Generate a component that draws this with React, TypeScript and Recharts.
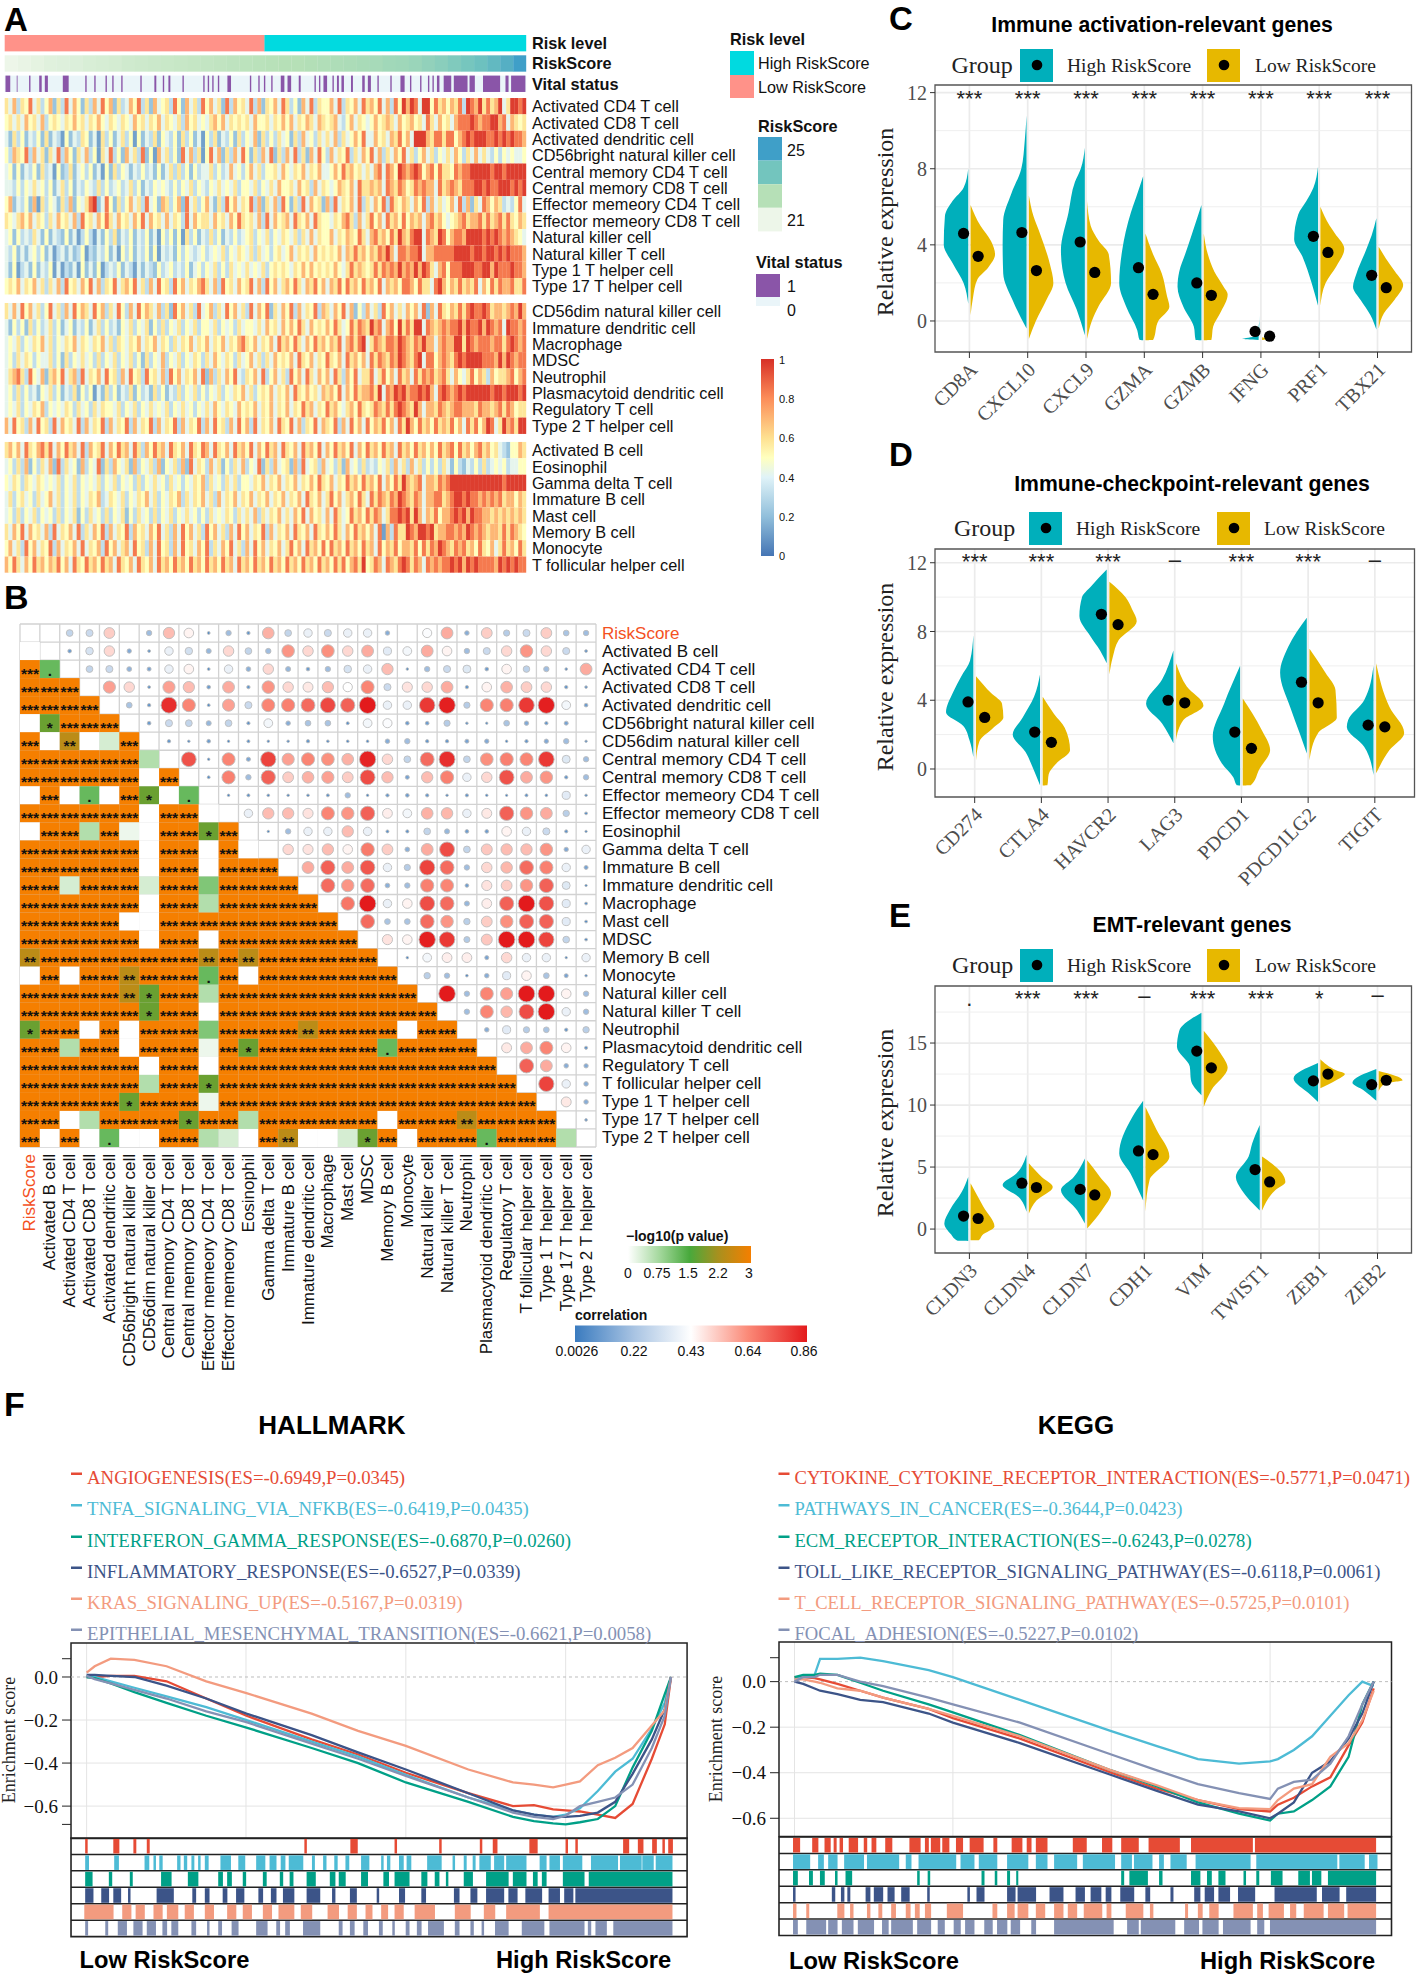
import React from 'react';
import {
  ScatterChart, LineChart, Scatter, Line, XAxis, YAxis, CartesianGrid,
  ReferenceArea, ReferenceLine,
} from 'recharts';

const SANS = '"Liberation Sans", Arial, sans-serif';
const SERIF = '"Liberation Serif", "Times New Roman", serif';

/* ---------- Panel A data (the heat map is
   read at a coarser column resolution than the original samples) ---------- */
const immuneGroup1 = ['Activated CD4 T cell','Activated CD8 T cell','Activated dendritic cell','CD56bright natural killer cell','Central memory CD4 T cell','Central memory CD8 T cell','Effector memeory CD4 T cell','Effector memeory CD8 T cell','Natural killer cell','Natural killer T cell','Type 1 T helper cell','Type 17 T helper cell'];
const immuneGroup2 = ['CD56dim natural killer cell','Immature dendritic cell','Macrophage','MDSC','Neutrophil','Plasmacytoid dendritic cell','Regulatory T cell','Type 2 T helper cell'];
const immuneGroup3 = ['Activated B cell','Eosinophil','Gamma delta T cell','Immature  B cell','Mast cell','Memory B cell','Monocyte','T follicular helper cell'];
const heatLevels = [.02,.12,.22,.32,.42,.5,.58,.7,.84,.97];
const heatRows1 = [
'6473658463 5726384752 6374857263 4758362745 6385274638 5746283756 4837265748 6352748365 5748365748 6758473859 7984995867 5768398796 8679469989',
'5646475647 3565465756 4657546546 5475646574 6546375645 4675746565 6475564657 5746576476 5674357465 4575676475 6756486475 6478889878 8997847656',
'4263524352 6243152436 5241635246 3515243625 4352635241 5362435263 5472635364 5263745364 6473645758 4475647685 7499976886 8857898999 8898989887',
'5376583746 2648375264 7351648352 7463825174 6352847361 5847263748 5263748263 7483627485 3746583647 5847364758 4635746354 6475364746 4353545445',
'4525243526 3415236245 3524152635 4243534252 4636352534 4635347453 5746355647 5465746574 4575867564 6478487598 7898578586 6587889999 9899899999',
'4435354645 3524635243 5436353453 4635243545 4353546354 3546454635 5463546475 5647563746 5457657486 6767487687 5687877486 7876888998 9889998989',
'5724352716 3542637254 6892485263 5746384527 6357284635 7426385746 5837264738 5263847562 7384657483 6475838657 6475837464 5748372648 7576343584',
'6546757465 3647564738 5647586475 6475847564 7465384756 6475647586 5647384756 7486574865 5465786374 6857486758 5767478675 4567867786 8678686576',
'4525343642 5243252413 5314253624 3524352415 3525163524 3635243534 5635463546 5463647465 5746576586 4786758697 6899487698 5788799998 9898787654',
'4352424535 2413424235 1324352415 3524352514 3425354345 3454635465 4636453564 5746564756 5657476867 5768797488 7889477888 8899998998 9989898887',
'4251342524 3514132415 2425134352 4314243253 4534352453 5463536454 6454635656 5465757565 6575468676 5686878797 8797986478 5888999889 9798889887',
'5657465746 3647385647 5847365846 7584637485 6385746578 6473856475 6847385746 7586476857 4768586758 6758476758 8758664897 5768676847 5868778668',
];
const heatRows2 = [
'6474857463 5846374857 6485736485 3748576473 6285746384 5736485746 3847582647 5837465837 6475847253 7463857464 7574827486 5768689889 8677678797',
'4253526353 4635245243 5246353425 4635462536 3546354635 5463545364 5546475647 5758647565 7586458687 6978478596 8699487678 7889798897 9878498878',
'4546354657 4635465746 5465746365 4657465746 5364657465 7465746578 6574657486 7586475867 5768478689 4687688798 7687977478 7799698788 8788689878',
'4536465354 4635263546 4536354635 4635263547 3546354653 6475465364 5746364756 5748657465 8657486757 4868768798 7689488578 7689899998 8879798788',
'4678638547 2675846738 4657485637 4856385647 3857465748 2736475843 6574835746 3857486475 7486375846 6846857486 7486878678 6475468576 3756678578',
'4536353425 4635243625 3514263524 3625342635 2436354635 3546354657 4635657465 7486575647 6758475867 7869487989 7889897489 8789899999 9899899989',
'4546354657 3545465364 5364655463 5463546454 6354645354 6475465475 6574657465 7465867465 8675467586 5687686898 7697477687 6788777687 7678687566',
'7485637485 6384756483 7465837465 8374658374 6583746583 7485637485 7384657486 5847365847 6583748574 8576857486 9758675867 6857486857 9846978699',
];
const heatRows3 = [
'6757486578 6847586748 3756847586 7486375867 4865748658 7486574867 5847586748 6574867584 7586758475 8675867486 7586757586 7858675786 7564325576',
'4536372536 4728364527 3548263754 6273546372 5463728465 3746253647 3548263745 6273845637 4536274536 3435463746 3746353536 4253243536 3454534455',
'5465365465 4546354635 4546354635 4536354645 3645354657 3645364635 5465746574 6574657586 5746586758 6758475869 7678477687 8999999999 9999899999',
'4635645364 5746354635 4657346546 3546574635 4657364657 4637465746 5746574657 4657486574 6857467586 4868768798 7687477886 7899898878 7878677576',
'4536354635 4536354625 3645363546 2536453635 4635464535 3645465364 6473646574 6475847564 7486458675 8687468898 9697476857 7898979887 7676767676',
'6475847564 7384657483 6475837465 8375647584 6374857463 8574637485 7465837465 7486574865 7586475867 5748173866 9879989677 8878798787 6776868765',
'5746385746 5837465748 4657385746 7485637485 6374856475 8364758463 7485746574 6857486758 5867586758 6748576857 7685868798 7687867586 5746867586',
'7586475867 5768574865 8675867486 5748657486 7586758675 8675867486 7586758675 8675867586 7586857869 5687487689 8687487878 8989798988 8879898988',
];
const riskLevelSpans = [[8, 471, 'Low'], [471, 937, 'High']] as const;
const riskScoreValues = [21.0,21.1,21.2,21.3,21.35,21.4,21.5,21.55,21.6,21.7,21.75,21.8,21.85,21.9,21.95,22,22.05,22.1,22.15,22.2,22.25,22.3,22.3,22.35,22.4,22.45,22.5,22.55,22.6,22.7,22.75,22.85,23,23.15,23.35,23.55,23.75,24.05,24.4,25];
const vitalSpans = [10,18,30,31,52,54,70,74,80,85,112,122,152,154,168,170,188,190,200,202,216,218,250,252,275,278,290,292,300,303,325,327,362,364,370,372,378,380,388,390,405,411,445,447,460,462,470,472,483,485,500,506,512,518,532,535,560,562,568,570,576,582,592,594,600,603,608,612,625,628,645,649,655,660,672,674,695,697,713,720,730,732,748,750,762,764,770,772,778,782,790,803,808,832,836,845,860,890,900,905,910,935];

/* ---------- Panel B data ---------- */
const corrNames = ['RiskScore','Activated B cell','Activated CD4 T cell','Activated CD8 T cell','Activated dendritic cell','CD56bright natural killer cell','CD56dim natural killer cell','Central memory CD4 T cell','Central memory CD8 T cell','Effector memeory CD4 T cell','Effector memeory CD8 T cell','Eosinophil','Gamma delta T cell','Immature  B cell','Immature dendritic cell','Macrophage','Mast cell','MDSC','Memory B cell','Monocyte','Natural killer cell','Natural killer T cell','Neutrophil','Plasmacytoid dendritic cell','Regulatory T cell','T follicular helper cell','Type 1 T helper cell','Type 17 T helper cell','Type 2 T helper cell'];
const corrUpper: number[][] = [
[0,.28,.3,.52,0,.2,.55,.45,.05,.2,.08,.57,.28,.38,.3,.38,.38,.15,0,.42,.58,.15,.52,.25,.3,.52,.22,.2],
[.1,.33,.5,.14,.05,.38,.32,.18,.5,.28,.2,.62,.5,.63,.5,.58,.36,.4,.58,.45,.2,.3,.5,.62,.5,.3,.05],
[.28,.3,.17,.12,.38,.45,.05,.38,.16,.5,.18,.1,.2,.33,.38,.55,.03,.2,.3,.35,.1,.45,.27,.2,.04,.58],
[.6,.5,.05,.6,.55,.1,.58,.08,.62,.5,.47,.55,.43,.65,.3,.48,.5,.58,.08,.45,.57,.52,.5,.08,.04],
[.22,.08,.82,.65,.05,.6,.3,.65,.66,.7,.77,.72,.86,.38,.38,.8,.85,.25,.65,.66,.8,.85,.4,.1],
[.1,.3,.28,.18,.28,.07,.4,.15,.22,.22,.06,.4,.42,.1,.1,.25,.03,.02,.22,.14,.08,.12,0],
[.08,.03,.1,.03,.06,.03,.03,.08,.04,.04,.04,.15,.2,.08,.08,.12,.14,.03,.08,.14,.2,.02],
[.75,.03,.65,.13,.78,.6,.65,.63,.57,.84,.5,.28,.7,.82,.28,.63,.66,.65,.8,.35,.2],
[.05,.66,.2,.72,.52,.57,.6,.52,.76,.55,.12,.55,.66,.38,.5,.75,.58,.62,.08,.2],
[.03,.06,.04,.03,.04,.06,.2,.03,.08,.1,.08,.03,.07,.03,.02,.06,.04,.36,.03],
[.38,.55,.55,.48,.65,.62,.72,.46,.4,.57,.56,.38,.47,.72,.62,.58,.26,.05],
[.02,.2,.38,.38,.55,.38,.06,.07,.28,.18,.1,.1,.45,.38,.3,.07,.02],
[.5,.48,.55,.45,.67,.52,.16,.58,.76,.28,.53,.55,.55,.62,.14,.38],
[.58,.72,.58,.74,.38,.25,.78,.7,.2,.5,.56,.7,.66,.38,.12],
[.7,.62,.7,.16,.2,.66,.65,.1,.48,.52,.62,.72,.35,.02],
[.68,.86,.38,.45,.76,.7,.18,.46,.72,.86,.75,.36,.05],
[.7,.22,.22,.7,.62,.26,.52,.63,.72,.72,.36,.05],
[.48,.45,.85,.8,.24,.53,.86,.86,.78,.28,.05],
[.03,.4,.46,.46,.12,.5,.38,.38,.02,.38],
[.26,.2,.04,.15,.36,.45,.22,.12,.03],
[.86,.2,.65,.6,.86,.86,.45,.2],
[.2,.65,.56,.76,.86,.38,.2],
[.15,.36,.25,.22,.08,.26],
[.47,.58,.65,.45,.07],
[.72,.58,.15,.14],
[.78,.38,.15],
[.47,.15],
[.04],
];
const pLower = [
'0','3 .','333','3333','0 1 333','3 0 2 0 b 3','333333 a','333333 0 3','0 3 0 . 0 3 1 0 .','333333 0 33 0',
'0 33 a 3 c 0 33 1 3','333333 0 33 0 3 0','333333 0 33 0 333','33 b 333 b 33 m 3333','333333 0 33 a 33333',
'33333 00 333333333','333333 0 33 0 3333333','2 33333333 2 3 2 333333','0 3 0 33 2 333 . 3 0 3333333',
'33333 2 1 33 a 3333333333','333333 1 33 0 33333333333','1 33 0 3 0 333 m 3333 2 3333 0 33',
'33 a 33 0 333 c 3 1 333333 . 3333','333333 0 33 0 33333333333333','333333 a 33 1 333333333333333',
'33333 1 333 c 3333333333333333','33 0 a 3333 1 33 a 333333 0 333 2 3333','3 0 3 0 . 00 33 a b 0 3 2 00 b 1 3 0 333 . 333 a',
];
const pCodes: Record<string, [number, string]> = {
  '3': [3, '***'], '2': [2.4, '**'], '1': [1.75, '*'], '.': [1.25, '.'],
  m: [1.05, ''], a: [0.65, ''], b: [0.35, ''], c: [0.15, ''], '0': [0, ''],
};

/* ---------- Panels C, D, E data: [value, half width in category units], top to bottom ---------- */
type Prof = [number, number][];
const cGenes = ['CD8A','CXCL10','CXCL9','GZMA','GZMB','IFNG','PRF1','TBX21'];
const cHigh: Prof[] = [
[[8,0],[7,.08],[6.3,.27],[5.5,.4],[4,.42],[3,.26],[2,.08],[.9,0]],
[[10.8,0],[9.5,.03],[8,.09],[6.7,.26],[5.3,.4],[4,.41],[2.5,.4],[1.1,.24],[-.4,0]],
[[9.1,0],[8,.07],[7.3,.17],[5.7,.28],[3.7,.41],[2,.33],[.6,.14],[-.75,0]],
[[7.6,0],[6.5,.12],[5.7,.21],[3.7,.36],[2,.41],[.75,.29],[-.5,.1],[-1,.06],[-1.01,0]],
[[6.1,0],[4.6,.16],[3.5,.28],[2.6,.38],[1.8,.41],[.75,.31],[-.3,.13],[-1,.1],[-1.01,0]],
[[.3,0],[-.3,.02],[-.8,.08],[-.95,.3],[-1,.02]],
[[8.1,0],[7,.08],[6.3,.2],[5.6,.34],[4.3,.41],[3.4,.27],[2,.11],[.8,0]],
[[5.4,0],[4.5,.08],[3.7,.18],[2.5,.34],[1.8,.4],[1.1,.27],[.3,.1],[-.45,0]],
];
const cLow: Prof[] = [
[[6.1,0],[5,.17],[4.2,.35],[3.5,.42],[2.8,.3],[2.2,.12],[1.2,.04],[.3,0]],
[[6.6,0],[5.5,.08],[4.6,.19],[3,.36],[2,.42],[1.1,.3],[0,.12],[-.95,0]],
[[6.3,0],[5,.06],[4.2,.2],[3.5,.37],[2,.41],[.8,.2],[0,.08],[-.95,0]],
[[4.6,0],[3.5,.13],[2.5,.28],[1.3,.37],[.75,.41],[0,.22],[-1,.13],[-1.01,0]],
[[4.6,0],[3.5,.07],[2.6,.18],[1.8,.34],[1.4,.41],[.4,.28],[-.3,.16],[-1,.13],[-1.01,0]],
[[-.85,0],[-.95,.1],[-1,0]],
[[6,0],[5,.16],[4.6,.25],[3.8,.41],[2.85,.27],[2,.09],[.8,0]],
[[3.9,0],[3.3,.12],[2.6,.28],[1.9,.42],[1.1,.27],[.4,.09],[-.4,0]],
];
const cHighMean = [4.6,4.65,4.15,2.8,2,-.55,4.45,2.4];
const cLowMean = [3.4,2.65,2.55,1.4,1.35,-.8,3.6,1.75];
const cSig = ['***','***','***','***','***','***','***','***'];
const cSigY = [12,12,12,12,12,12,12,12];

const dGenes = ['CD274','CTLA4','HAVCR2','LAG3','PDCD1','PDCD1LG2','TIGIT'];
const dHigh: Prof[] = [
[[7.8,0],[6.3,.05],[5.4,.18],[4.5,.3],[3.3,.41],[2.5,.15],[1.7,.06],[.7,0]],
[[5.5,0],[4.2,.09],[3,.26],[2,.41],[1,.22],[0,.1],[-.95,0]],
[[11.6,0],[10.6,.24],[10,.37],[8.9,.41],[7.7,.24],[6.9,.1],[6.15,0]],
[[6.9,0],[5.2,.17],[3.8,.41],[2.65,.17],[1.5,0]],
[[6,0],[3.8,.24],[1.9,.41],[.3,.27],[-.5,.1],[-.95,.05],[-.96,0]],
[[8.8,0],[7.1,.28],[5.6,.4],[3.6,.25],[2,.1],[.9,0]],
[[6,0],[4,.14],[2.85,.38],[2.45,.4],[1.3,.14],[-.35,0]],
];
const dLow: Prof[] = [
[[5.4,0],[4.4,.23],[3.8,.39],[3,.41],[2.4,.26],[1.6,.05],[.5,0]],
[[4.2,0],[3.2,.17],[2.4,.33],[1.1,.41],[.3,.2],[-.3,.09],[-.95,.07],[-.96,0]],
[[10.9,0],[10,.24],[9.3,.34],[8.6,.41],[7.5,.14],[6.5,.05],[5.5,0]],
[[6.15,0],[4.8,.16],[3.7,.41],[2.85,.11],[1.7,0]],
[[4.1,0],[2.3,.28],[1.1,.41],[0,.25],[-.95,.12],[-.96,0]],
[[7,0],[5.6,.24],[4.6,.39],[3,.41],[2.1,.13],[.5,0]],
[[6.15,0],[3.6,.2],[2.1,.42],[1.1,.2],[-.25,0]],
];
const dHighMean = [3.9,2.15,9,4,2.15,5.05,2.55];
const dLowMean = [3,1.55,8.4,3.85,1.2,3.85,2.45];
const dSig = ['***','***','***','-','***','***','-'];
const dSigY = [12.4,12.4,12.4,12.15,12.4,12.4,12.15];

const eGenes = ['CLDN3','CLDN4','CLDN7','CDH1','VIM','TWIST1','ZEB1','ZEB2'];
const eHigh: Prof[] = [
[[4.2,0],[3,.11],[1.5,.32],[.45,.41],[-.4,.3],[-.95,.18],[-.96,0]],
[[6,0],[4.5,.17],[3.55,.41],[2.6,.14],[1.4,0]],
[[5.7,0],[4.2,.19],[3.15,.41],[1.5,.13],[.45,0]],
[[10.35,0],[9,.19],[6.1,.41],[4.5,.22],[2.3,0]],
[[17.45,0],[16,.38],[14.7,.42],[13.1,.2],[12,.18],[10.8,0]],
[[8.4,0],[6.9,.13],[5.85,.19],[4.2,.41],[3.15,.31],[1.5,0]],
[[13.4,0],[12.15,.42],[10.95,.16],[10.25,0]],
[[12.9,0],[11.8,.41],[11.2,.22],[10.35,0]],
];
const eLow: Prof[] = [
[[3.7,0],[1.8,.22],[.2,.41],[-.5,.2],[-.9,.14],[-.91,0]],
[[5.3,0],[4.2,.22],[3.4,.41],[2.3,.13],[1.25,0]],
[[5.55,0],[4.2,.22],[2.9,.41],[1.5,.25],[.05,0]],
[[9.85,0],[8,.19],[5.85,.41],[3.95,.07],[1.4,0]],
[[16,0],[14.15,.29],[13,.41],[11.2,.13],[9.85,0]],
[[5.85,0],[4.2,.38],[3.8,.4],[3.15,.23],[1.5,0]],
[[13.7,0],[12.8,.27],[12.5,.42],[12,.27],[11.35,0]],
[[12.75,0],[12,.41],[11.75,.12],[11.1,0]],
];
const eHighMean = [1.05,3.7,3.2,6.3,14.35,4.8,11.95,11.65];
const eLowMean = [.85,3.35,2.75,6,13,3.8,12.5,12];
const eSig = ['.','***','***','-','***','***','*','-'];
const eSigY = [18.1,19,19,18.75,19,19,19,18.85];

/* ---------- Panel F data (ranks are in unlabelled arbitrary units) ---------- */
const npg = ['#E64B35','#4DBBD5','#00A087','#3C5488','#F39B7F','#8491B4'];
const hallmarkNames = ['ANGIOGENESIS(ES=-0.6949,P=0.0345)','TNFA_SIGNALING_VIA_NFKB(ES=-0.6419,P=0.0435)','INTERFERON_GAMMA_RESPONSE(ES=-0.6870,P=0.0260)','INFLAMMATORY_RESPONSE(ES=-0.6527,P=0.0339)','KRAS_SIGNALING_UP(ES=-0.5167,P=0.0319)','EPITHELIAL_MESENCHYMAL_TRANSITION(ES=-0.6621,P=0.0058)'];
const hallmarkRanks = [195,213,249,302,374,463,553,699,803,910,1050,1150,1197,1240,1268,1300,1340,1379,1418,1461,1490,1504];
const hAngio = [0,0,.005,.005,-.02,-.1,-.18,-.29,-.36,-.445,-.54,-.6,-.595,-.615,-.62,-.625,-.64,-.655,-.59,-.38,-.22,0];
const hTnfa = [0,0,-.02,-.05,-.09,-.14,-.2,-.3,-.37,-.455,-.56,-.62,-.64,-.65,-.64,-.61,-.53,-.44,-.38,-.24,-.12,0];
const hIfng = [0,-.005,-.03,-.07,-.12,-.18,-.235,-.33,-.4,-.49,-.58,-.65,-.67,-.68,-.685,-.675,-.66,-.6,-.42,-.25,-.08,0];
const hInfl = [.01,.01,.005,0,-.04,-.1,-.17,-.27,-.35,-.43,-.54,-.62,-.64,-.65,-.65,-.645,-.63,-.58,-.45,-.29,-.15,0];
const hKras = [.02,.05,.085,.08,.05,-.02,-.075,-.17,-.25,-.32,-.43,-.49,-.5,-.513,-.5,-.485,-.41,-.375,-.33,-.225,-.155,0];
const hEmt = [.005,-.01,-.03,-.06,-.1,-.16,-.21,-.31,-.38,-.46,-.56,-.63,-.65,-.66,-.645,-.6,-.58,-.56,-.5,-.33,-.18,0];
const hallmarkRugs = [
[192,197,255,268,300,306,330,336,683,688,786,802,885,890,985,990,1076,1081,1105,1115,1187,1205,1268,1273,1290,1295,1397,1410,1430,1442,1462,1472,1485,1490,1498,1508],
[192,200,257,267,325,335,345,350,358,365,398,405,413,420,430,436,445,450,460,468,495,518,535,550,575,595,605,620,630,640,648,680,700,706,725,732,750,757,775,783,810,828,855,860,868,875,895,905,912,922,958,990,1015,1020,1040,1046,1060,1066,1075,1100,1108,1130,1135,1180,1210,1225,1232,1255,1262,1305,1325,1385,1390,1438,1440,1465,1470,1507],
[192,208,245,252,292,298,362,385,422,445,490,500,510,520,545,552,590,598,628,635,650,658,688,708,740,752,760,775,810,825,860,872,885,918,945,958,975,985,1000,1005,1040,1060,1090,1140,1150,1180,1195,1205,1215,1225,1262,1310,1320,1507],
[192,210,228,245,255,272,288,293,352,390,432,440,460,470,500,510,530,548,580,590,608,620,635,660,688,718,745,752,785,800,845,850,895,908,945,955,1018,1030,1055,1070,1090,1130,1140,1160,1178,1215,1230,1255,1265,1285,1290,1507],
[190,255,275,295,305,325,345,365,375,400,415,435,460,480,510,530,545,565,590,610,625,660,675,700,735,760,780,800,820,835,855,870,885,905,930,975,1020,1055,1085,1110,1135,1210,1230,1507],
[192,198,237,243,265,285,300,320,330,350,365,375,385,400,430,440,465,470,490,498,520,535,575,600,620,628,640,650,680,718,760,768,785,795,815,825,850,858,880,885,910,918,935,945,960,995,1020,1030,1055,1062,1080,1085,1110,1140,1170,1220,1232,1310,1318,1325,1335,1360,1375,1507],
];
const keggNames = ['CYTOKINE_CYTOKINE_RECEPTOR_INTERACTION(ES=-0.5771,P=0.0471)','PATHWAYS_IN_CANCER(ES=-0.3644,P=0.0423)','ECM_RECEPTOR_INTERACTION(ES=-0.6243,P=0.0278)','TOLL_LIKE_RECEPTOR_SIGNALING_PATHWAY(ES=-0.6118,P=0.0061)','T_CELL_RECEPTOR_SIGNALING_PATHWAY(ES=-0.5725,P=0.0101)','FOCAL_ADHESION(ES=-0.5227,P=0.0102)'];
const keggRanks = [206,225,250,262,300,350,400,500,553,700,900,1000,1090,1180,1248,1265,1300,1340,1380,1420,1450,1475];
const kCyto = [.02,.02,.015,.01,-.01,-.04,-.07,-.12,-.16,-.25,-.4,-.47,-.52,-.56,-.57,-.54,-.51,-.46,-.42,-.28,-.18,-.03];
const kCancer = [.01,.02,.03,.1,.1,.105,.09,.05,.02,-.08,-.217,-.283,-.34,-.36,-.35,-.34,-.3,-.24,-.15,-.06,0,-.02];
const kEcm = [.02,.03,.03,.035,.03,-.005,-.04,-.1,-.135,-.235,-.39,-.46,-.53,-.58,-.61,-.58,-.57,-.52,-.46,-.33,-.1,0];
const kToll = [0,-.01,-.03,-.04,-.055,-.08,-.09,-.14,-.18,-.27,-.41,-.48,-.54,-.57,-.6,-.58,-.53,-.4,-.35,-.25,-.14,0];
const kTcell = [.01,.01,0,-.005,-.03,-.04,-.07,-.12,-.15,-.24,-.39,-.455,-.52,-.555,-.56,-.52,-.47,-.45,-.33,-.27,-.17,-.04];
const kFocal = [0,.02,.02,.03,.03,0,-.02,-.07,-.1,-.18,-.32,-.39,-.45,-.49,-.515,-.47,-.44,-.43,-.36,-.24,-.1,0];
const keggRugs = [
[203,218,245,258,272,285,292,298,305,312,325,345,358,365,375,385,405,420,458,482,492,500,505,525,530,545,560,575,590,620,642,650,682,705,715,725,735,760,816,846,880,902,922,960,982,1050,1075,1210,1215,1480],
[203,240,258,270,280,300,315,358,365,435,450,462,478,560,570,600,610,650,672,718,735,760,775,825,838,908,922,945,950,990,1005,1015,1030,1065,1085,1205,1218,1395,1400,1455,1465,1483],
[203,213,238,246,262,272,295,300,318,332,475,480,498,503,616,622,645,650,672,678,692,696,922,928,940,980,1005,1012,1075,1095,1110,1120,1135,1150,1190,1195,1218,1224,1250,1275,1310,1335,1340,1360,1375,1480],
[203,208,288,295,308,315,322,328,362,372,380,400,410,425,440,458,497,502,585,590,605,622,672,690,695,735,765,795,822,842,855,878,888,900,920,950,975,985,1030,1036,1082,1095,1105,1125,1135,1160,1178,1215,1258,1350,1362,1400,1415,1480],
[203,210,232,238,300,315,328,335,365,372,390,398,418,428,450,460,470,480,492,505,540,575,640,650,672,688,695,718,735,755,775,795,805,825,840,880,890,900,932,970,985,992,1062,1068,1090,1100,1115,1135,1168,1210,1220,1232,1245,1278,1292,1305,1322,1365,1375,1410,1418,1480],
[203,213,232,275,280,300,310,335,345,380,398,412,418,465,475,505,520,535,555,570,580,600,622,640,650,672,680,700,725,735,775,905,935,960,965,1040,1060,1092,1100,1135,1145,1205,1220,1235,1248,1480],
];

/* ---------- colour helpers ---------- */
const hex = (c: string) => [1, 3, 5].map((i) => parseInt(c.slice(i, i + 2), 16));
function ramp(stops: [number, string][], v: number) {
  if (v <= stops[0][0]) return stops[0][1];
  for (let i = 1; i < stops.length; i++) {
    if (v <= stops[i][0]) {
      const t = (v - stops[i - 1][0]) / (stops[i][0] - stops[i - 1][0]);
      const a = hex(stops[i - 1][1]);
      const b = hex(stops[i][1]);
      return `rgb(${a.map((x, k) => Math.round(x + (b[k] - x) * t)).join(',')})`;
    }
  }
  return stops[stops.length - 1][1];
}
const heatStops: [number, string][] = [[0,'#4575b4'],[.2,'#91bfdb'],[.4,'#e0f3f8'],[.5,'#ffffbf'],[.6,'#fee090'],[.8,'#fc8d59'],[1,'#d73027']];
const scoreStops: [number, string][] = [[21,'#edf6e9'],[22.3,'#b6e0b7'],[23.6,'#73c5be'],[25,'#3f9fc8']];
const pStops: [number, string][] = [[0,'#ffffff'],[.75,'#a6d99f'],[1.5,'#48a93c'],[2.2,'#a8901e'],[3,'#f57f00']];
const corrStops: [number, string][] = [[0,'#3a7bbf'],[.22,'#a9c4e3'],[.43,'#ffffff'],[.64,'#fb8a78'],[.86,'#e31a1c']];

const TEAL = '#00AFBB';
const GOLD = '#E7B800';

/* ---------- Panel A chart ---------- */
const A_BOX = { l: 4.5, r: 526.4, t: 35, b: 572.8 };
const ROW_PX = 16.37;
const A_X: [number, number] = [8, 937];
const A_PX = (A_BOX.r - A_BOX.l) / (A_X[1] - A_X[0]);
const annotRows = [{ y: 0.5, name: 'Risk level' }, { y: 1.74, name: 'RiskScore' }, { y: 2.98, name: 'Vital status' }];
const groupStart = [3.85, 16.37, 24.86];
const groups = [
  { names: immuneGroup1, rows: heatRows1 },
  { names: immuneGroup2, rows: heatRows2 },
  { names: immuneGroup3, rows: heatRows3 },
];
type Band = { x: number; y: number; x1: number; x2: number; fill: string };
const band = (x1: number, x2: number, y: number, fill: string): Band => ({ x: (x1 + x2) / 2, y, x1, x2, fill });
const heatBands: Band[] = [];
const rowLabels = new Map<string, { name: string; bold: boolean }>();
annotRows.forEach((r) => rowLabels.set(r.y.toFixed(2), { name: r.name, bold: true }));
groups.forEach((g, gi) => {
  g.names.forEach((name, i) => {
    const y = groupStart[gi] + i + 0.5;
    rowLabels.set(y.toFixed(2), { name, bold: false });
    const cells = g.rows[i].replace(/ /g, '');
    const w = (A_X[1] - A_X[0]) / cells.length;
    for (let c = 0; c < cells.length; c++) {
      const x1 = A_X[0] + c * w;
      heatBands.push(band(x1, x1 + w, y, ramp(heatStops, heatLevels[Number(cells[c])])));
    }
  });
});
const annotBands: Band[] = [];
riskLevelSpans.forEach(([a, b, k]) => annotBands.push(band(a, b, 0.5, k === 'Low' ? '#FF9289' : '#00DAE0')));
riskScoreValues.forEach((v, i) => {
  const w = (A_X[1] - A_X[0]) / riskScoreValues.length;
  annotBands.push(band(A_X[0] + i * w, A_X[0] + (i + 1) * w, 1.74, ramp(scoreStops, v)));
});
annotBands.push(band(A_X[0], A_X[1], 2.98, '#EAF5F9'));
for (let i = 0; i < vitalSpans.length; i += 2) annotBands.push(band(vitalSpans[i], vitalSpans[i + 1], 2.98, '#8A55A8'));
const aTicks = Array.from(rowLabels.keys()).map(Number);

const bandShape = (pxPerX: number, h: number) => (p: any) => {
  const d = p.payload;
  const w = (d.x2 - d.x1) * pxPerX + 0.25;
  return <rect x={p.cx - w / 2} y={p.cy - h / 2} width={w} height={h} fill={d.fill} />;
};

function HeatPanel() {
  return (
    <div style={{ position: 'absolute', left: 0, top: A_BOX.t - 5 }}>
      <ScatterChart width={A_BOX.r + 300} height={A_BOX.b - A_BOX.t + 10} margin={{ top: 5, right: 0, bottom: 5, left: A_BOX.l }}>
        <XAxis type="number" dataKey="x" domain={A_X} allowDataOverflow hide />
        <YAxis
          type="number" dataKey="y" reversed orientation="right" width={300}
          domain={[0, (A_BOX.b - A_BOX.t) / ROW_PX]} allowDataOverflow ticks={aTicks} interval={0}
          axisLine={false} tickLine={false} tickSize={0}
          tick={(p: any) => {
            const lab = rowLabels.get(Number(p.payload.value).toFixed(2));
            return (
              <text x={p.x + 3.5} y={p.y} dominantBaseline="central" fontFamily={SANS} fontSize={16.3} fontWeight={lab?.bold ? 700 : 400} fill="#111">
                {lab?.name}
              </text>
            );
          }}
        />
        <Scatter data={annotBands} shape={bandShape(A_PX, ROW_PX)} isAnimationActive={false} />
        <Scatter data={heatBands} shape={bandShape(A_PX, ROW_PX)} isAnimationActive={false} />
      </ScatterChart>
    </div>
  );
}

/* ---------- Panel B chart ---------- */
const B_BOX = { l: 20, r: 596, t: 624, b: 1147 };
const bBorders = Array.from({ length: 30 }, (_, i) => i - 0.5);
const bTicks = corrNames.map((_, i) => i);
const pCells: any[] = [];
pLower.forEach((s, ri) => {
  s.replace(/ /g, '').split('').forEach((ch, c) => {
    const [v, star] = pCodes[ch];
    pCells.push({ x: c, y: ri + 1, fill: ramp(pStops, v), star });
  });
});
const corrDots: any[] = [];
corrUpper.forEach((row, ri) => {
  row.forEach((r, k) => {
    if (r > 0) corrDots.push({ x: ri + 1 + k, y: ri, r, fill: ramp(corrStops, r) });
  });
});
const B_CW = (B_BOX.r - B_BOX.l) / 29;
const B_CH = (B_BOX.b - B_BOX.t) / 29;
const PCell = (p: any) => {
  const d = p.payload;
  return (
    <g>
      <rect x={p.cx - B_CW / 2} y={p.cy - B_CH / 2} width={B_CW} height={B_CH} fill={d.fill} />
      {d.star && (
        <text x={p.cx} y={p.cy + (d.star === '.' ? 7 : 9.5)} textAnchor="middle" fontFamily={SANS} fontSize={15.5} fontWeight={700} fill="#111">
          {d.star}
        </text>
      )}
    </g>
  );
};
const CorrDot = (p: any) => {
  const d = p.payload;
  return <circle cx={p.cx} cy={p.cy} r={1 + d.r * 8.5} fill={d.fill} stroke="#bdbdbd" strokeWidth={0.9} />;
};

function CorrPanel() {
  const padB = 240;
  return (
    <div style={{ position: 'absolute', left: 0, top: B_BOX.t - 5 }}>
      <ScatterChart width={B_BOX.r + 320} height={B_BOX.b - B_BOX.t + 5 + padB} margin={{ top: 5, right: 0, bottom: 0, left: B_BOX.l }}>
        <CartesianGrid horizontalValues={bBorders} verticalValues={bBorders} stroke="#d2d2d2" strokeWidth={1.3} />
        <XAxis
          type="number" dataKey="x" domain={[-0.5, 28.5]} allowDataOverflow ticks={bTicks} interval={0} height={padB}
          axisLine={false} tickLine={false} tickSize={0}
          tick={(p: any) => {
            const name = corrNames[p.payload.value];
            return (
              <text transform={`rotate(-90 ${p.x + 5.5} ${p.y + 5})`} x={p.x + 5.5} y={p.y + 5} textAnchor="end" fontFamily={SANS} fontSize={17} fill={name === 'RiskScore' ? '#F4511E' : '#111'}>
                {name}
              </text>
            );
          }}
        />
        <YAxis
          type="number" dataKey="y" reversed orientation="right" width={320} domain={[-0.5, 28.5]} allowDataOverflow ticks={bTicks} interval={0}
          axisLine={false} tickLine={false} tickSize={0}
          tick={(p: any) => {
            const name = corrNames[p.payload.value];
            return (
              <text x={p.x + 4} y={p.y} dominantBaseline="central" fontFamily={SANS} fontSize={17} fill={name === 'RiskScore' ? '#F4511E' : '#111'}>
                {name}
              </text>
            );
          }}
        />
        <Scatter data={pCells} shape={PCell} isAnimationActive={false} />
        <Scatter data={corrDots} shape={CorrDot} isAnimationActive={false} />
      </ScatterChart>
    </div>
  );
}

/* ---------- Panels C/D/E ---------- */
const hideDot = () => <g />;
const MeanDot = (p: any) => <circle cx={p.cx} cy={p.cy} r={5.6} fill="#000" />;
const SigMark = (p: any) => {
  const s = p.payload.label;
  const dy = s === '-' ? 6.5 : s === '.' ? 1 : 13;
  return (
    <text x={p.cx} y={p.cy + dy} textAnchor="middle" fontFamily={SANS} fontSize={22} fill="#222">
      {s === '-' ? '\u2013' : s}
    </text>
  );
};

function ViolinPanel(props: any) {
  const { genes, high, low, highMean, lowMean, sig, sigY, box, yDomain, yMajor, yMinor, xPad } = props;
  const n = genes.length;
  const xDomain: [number, number] = [1 - xPad[0], n + xPad[1]];
  const cats = genes.map((_: string, i: number) => i + 1);
  const GAP = 0.02;
  const halves = (list: Prof[], sign: number) =>
    list.map((prof, i) => prof.map(([y, w]) => ({ x: i + 1 + sign * (GAP + w), y })));
  const padL = 75;
  const padT = 8;
  const padB = 90;
  return (
    <div style={{ position: 'absolute', left: box.l - padL, top: box.t - padT }}>
      <ScatterChart width={box.r - box.l + padL + 4} height={box.b - box.t + padT + padB} margin={{ top: padT, right: 4, bottom: 0, left: 0 }}>
        <CartesianGrid horizontalValues={yMajor} verticalValues={cats} stroke="#ebebeb" strokeWidth={1.7} />
        <CartesianGrid horizontalValues={yMinor} vertical={false} stroke="#efefef" strokeWidth={1} />
        <XAxis
          type="number" dataKey="x" domain={xDomain} allowDataOverflow ticks={cats} interval={0} height={padB}
          axisLine={false} tickLine={{ stroke: '#333' }} tickSize={6}
          tick={(p: any) => (
            <text transform={`rotate(-45 ${p.x + 9} ${p.y + 11})`} x={p.x + 9} y={p.y + 11} textAnchor="end" fontFamily={SERIF} fontSize={20} fill="#4d4d4d">
              {genes[p.payload.value - 1]}
            </text>
          )}
        />
        <YAxis
          type="number" dataKey="y" domain={yDomain} allowDataOverflow ticks={yMajor} interval={0} width={padL}
          axisLine={false} tickLine={{ stroke: '#333' }} tickSize={5} tickMargin={3}
          tick={{ fontFamily: SERIF, fontSize: 20, fill: '#4d4d4d' }}
        />
        {halves(high, -1).map((pts, i) => (
          <Scatter key={`h${i}`} data={pts} shape={hideDot} line={{ fill: TEAL, stroke: 'none' }} lineJointType="monotoneY" isAnimationActive={false} />
        ))}
        {halves(low, 1).map((pts, i) => (
          <Scatter key={`l${i}`} data={pts} shape={hideDot} line={{ fill: GOLD, stroke: 'none' }} lineJointType="monotoneY" isAnimationActive={false} />
        ))}
        <Scatter data={highMean.map((y: number, i: number) => ({ x: i + 0.9, y }))} shape={MeanDot} isAnimationActive={false} />
        <Scatter data={lowMean.map((y: number, i: number) => ({ x: i + 1.15, y }))} shape={MeanDot} isAnimationActive={false} />
        <Scatter data={sig.map((label: string, i: number) => ({ x: i + 1, y: sigY[i], label }))} shape={SigMark} isAnimationActive={false} />
        <ReferenceArea x1={xDomain[0]} x2={xDomain[1]} y1={yDomain[0]} y2={yDomain[1]} fill="none" stroke="#555" strokeWidth={1.3} />
      </ScatterChart>
    </div>
  );
}

/* ---------- Panel F ---------- */
function GseaPanel(props: any) {
  const { ranks, curves, rugs, xDomain, vGrid, box, rugB, yDomain, yTicks, yLabelled } = props;
  const rows = ranks.map((rank: number, i: number) => {
    const o: any = { rank };
    curves.forEach((c: number[], k: number) => { o[`s${k}`] = c[i]; });
    return o;
  });
  const padL = 72;
  const pxPerRank = (box.r - box.l) / (xDomain[1] - xDomain[0]);
  const rugData = rugs.flatMap((list: number[], row: number) => {
    const out: any[] = [];
    for (let i = 0; i < list.length; i += 2) out.push({ x: (list[i] + list[i + 1]) / 2, y: row, x1: list[i], x2: list[i + 1], fill: npg[row] });
    return out;
  });
  return (
    <>
      <div style={{ position: 'absolute', left: box.l - padL, top: box.t - 3 }}>
        <LineChart width={box.r - box.l + padL + 3} height={box.b - box.t + 6} data={rows} margin={{ top: 3, right: 3, bottom: 3, left: 0 }}>
          <CartesianGrid horizontalValues={[-0.2, -0.4, -0.6]} verticalValues={vGrid} stroke="#e4e4e4" strokeWidth={1} />
          <XAxis type="number" dataKey="rank" domain={xDomain} allowDataOverflow hide />
          <YAxis
            type="number" domain={yDomain} allowDataOverflow ticks={yTicks} interval={0} width={padL}
            axisLine={false} tickLine={{ stroke: '#222' }} tickSize={9} tickMargin={4}
            tickFormatter={(v: number) => (yLabelled.includes(v) ? v.toFixed(1).replace('-', '\u2212') : '')}
            tick={{ fontFamily: SERIF, fontSize: 19, fill: '#111' }}
          />
          <ReferenceLine y={0} stroke="#bdbdbd" strokeDasharray="3 3" />
          {curves.map((_: number[], k: number) => (
            <Line key={k} dataKey={`s${k}`} type="linear" dot={false} stroke={npg[k]} strokeWidth={2.3} isAnimationActive={false} />
          ))}
          <ReferenceArea x1={xDomain[0]} x2={xDomain[1]} y1={yDomain[0]} y2={yDomain[1]} fill="none" stroke="#222" strokeWidth={1.5} />
        </LineChart>
      </div>
      <div style={{ position: 'absolute', left: box.l - 2, top: box.b - 2 }}>
        <ScatterChart width={box.r - box.l + 4} height={rugB - box.b + 4} margin={{ top: 2, right: 2, bottom: 2, left: 2 }}>
          <XAxis type="number" dataKey="x" domain={xDomain} allowDataOverflow hide />
          <YAxis type="number" dataKey="y" domain={[-0.5, 5.5]} reversed allowDataOverflow hide />
          <Scatter data={rugData} shape={bandShape(pxPerRank, 14.6)} isAnimationActive={false} />
          {[0.5, 1.5, 2.5, 3.5, 4.5].map((y) => (
            <ReferenceLine key={y} y={y} stroke="#222" strokeWidth={1.5} />
          ))}
          <ReferenceArea x1={xDomain[0]} x2={xDomain[1]} y1={-0.5} y2={5.5} fill="none" stroke="#222" strokeWidth={1.6} />
        </ScatterChart>
      </div>
    </>
  );
}

/* ---------- static text and legends ---------- */
const T = ({ x, y, s, f = SANS, b, a = 'start', c = '#111', r, children }: any) => (
  <text x={x} y={y} fontSize={s} fontFamily={f} fontWeight={b ? 700 : 400} textAnchor={a} fill={c} dominantBaseline="central" transform={r ? `rotate(${r} ${x} ${y})` : undefined}>
    {children}
  </text>
);
const grad = (id: string, stops: [number, string][], vertical = false) => {
  const lo = stops[0][0];
  const hi = stops[stops.length - 1][0];
  return (
    <linearGradient id={id} x1="0" y1={vertical ? '1' : '0'} x2={vertical ? '0' : '1'} y2="0">
      {stops.map(([v, c]) => <stop key={v} offset={(v - lo) / (hi - lo)} stopColor={c} />)}
    </linearGradient>
  );
};

function GroupLegend({ gx, tealX, hx, goldX, lx, y }: any) {
  return (
    <g>
      <T x={gx} y={y} s={24} f={SERIF} c="#222">Group</T>
      <rect x={tealX} y={y - 16} width={33} height={33} fill={TEAL} />
      <circle cx={tealX + 17} cy={y} r={5.3} fill="#000" />
      <T x={hx} y={y} s={19.5} f={SERIF} c="#222">High RiskScore</T>
      <rect x={goldX} y={y - 16} width={33} height={33} fill={GOLD} />
      <circle cx={goldX + 17} cy={y} r={5.3} fill="#000" />
      <T x={lx} y={y} s={19.5} f={SERIF} c="#222">Low RiskScore</T>
    </g>
  );
}

function Overlay() {
  const legY = [1477, 1508.5, 1540, 1571, 1602, 1633];
  return (
    <svg width={1416} height={1975} style={{ position: 'absolute', left: 0, top: 0, pointerEvents: 'none' }}>
      <defs>
        {grad('gHeat', heatStops, true)}
        {grad('gP', pStops)}
        {grad('gCorr', corrStops)}
      </defs>
      {/* panel letters */}
      <T x={4} y={19} s={33} b c="#000">A</T>
      <T x={4} y={597} s={34} b c="#000">B</T>
      <T x={889} y={18} s={33} b c="#000">C</T>
      <T x={889} y={454} s={33} b c="#000">D</T>
      <T x={889} y={915} s={33} b c="#000">E</T>
      <T x={4} y={1404} s={34} b c="#000">F</T>

      {/* panel A legends */}
      <T x={730} y={39} s={16.3} b>Risk level</T>
      <rect x={730} y={51} width={24} height={24} fill="#00DAE0" />
      <rect x={730} y={75} width={24} height={23} fill="#FF9289" />
      <T x={758} y={63} s={16.2}>High RiskScore</T>
      <T x={758} y={87} s={16.2}>Low RiskScore</T>
      <T x={758} y={126} s={16.3} b>RiskScore</T>
      {['#3f9fc8', '#73c5be', '#b6e0b7', '#edf6e9'].map((c, i) => (
        <rect key={c} x={758} y={137 + i * 23.6} width={24} height={23.6} fill={c} />
      ))}
      <T x={787} y={150} s={16}>25</T>
      <T x={787} y={220} s={16}>21</T>
      <T x={756} y={262} s={16.3} b>Vital status</T>
      <rect x={756} y={274} width={24} height={23} fill="#8A55A8" />
      <rect x={756} y={297} width={24} height={9} fill="#EAF5F9" />
      <T x={787} y={286} s={16}>1</T>
      <T x={787} y={310} s={16}>0</T>
      <rect x={761} y={359} width={13} height={197} fill="url(#gHeat)" />
      {['1', '0.8', '0.6', '0.4', '0.2', '0'].map((v, i) => (
        <T key={v} x={779} y={360 + i * 39.2} s={11}>{v}</T>
      ))}

      {/* panel B legends */}
      <T x={626} y={1236} s={14} b>{'\u2212log10(p value)'}</T>
      <rect x={628} y={1246} width={123} height={17} fill="url(#gP)" />
      {[['0', 628], ['0.75', 657], ['1.5', 688], ['2.2', 718], ['3', 749]].map(([v, x]) => (
        <T key={v} x={x} y={1273} s={14} a="middle">{v}</T>
      ))}
      <T x={575} y={1315} s={14} b>correlation</T>
      <rect x={575} y={1325.5} width={232} height={16.5} fill="url(#gCorr)" />
      {[['0.0026', 577], ['0.22', 634], ['0.43', 691], ['0.64', 748], ['0.86', 804]].map(([v, x]) => (
        <T key={v} x={x} y={1351} s={14} a="middle">{v}</T>
      ))}

      {/* panel C/D/E titles, axis titles, legends */}
      <T x={1162} y={24} s={21.2} b a="middle" c="#000">Immune activation-relevant genes</T>
      <T x={1192} y={483} s={21.2} b a="middle" c="#000">Immune-checkpoint-relevant genes</T>
      <T x={1192} y={924} s={21.2} b a="middle" c="#000">EMT-relevant genes</T>
      <T x={885} y={222} s={24} f={SERIF} a="middle" r={-90} c="#222">Relative expression</T>
      <T x={885} y={677} s={24} f={SERIF} a="middle" r={-90} c="#222">Relative expression</T>
      <T x={885} y={1123} s={24} f={SERIF} a="middle" r={-90} c="#222">Relative expression</T>
      <GroupLegend gx={951.5} tealX={1020} hx={1067} goldX={1207} lx={1255} y={65} />
      <GroupLegend gx={954} tealX={1029} hx={1076} goldX={1217} lx={1264} y={528} />
      <GroupLegend gx={952} tealX={1020} hx={1067} goldX={1207} lx={1255} y={965} />

      {/* panel F titles and legends */}
      <T x={332} y={1425} s={26} b a="middle" c="#000">HALLMARK</T>
      <T x={1076} y={1425} s={26} b a="middle" c="#000">KEGG</T>
      {hallmarkNames.map((name, i) => (
        <g key={name}>
          <rect x={71} y={legY[i] - 4.5} width={11} height={2.5} fill={npg[i]} />
          <T x={87} y={legY[i]} s={18.8} f={SERIF} c={npg[i]}>{name}</T>
        </g>
      ))}
      {keggNames.map((name, i) => (
        <g key={name}>
          <rect x={778.5} y={legY[i] - 4.5} width={11} height={2.5} fill={npg[i]} />
          <T x={794.5} y={legY[i]} s={18.6} f={SERIF} c={npg[i]}>{name}</T>
        </g>
      ))}
      <T x={9} y={1740} s={18} f={SERIF} a="middle" r={-90} c="#222">Enrichment score</T>
      <T x={716} y={1739} s={18} f={SERIF} a="middle" r={-90} c="#222">Enrichment score</T>
      <T x={79.5} y={1959.5} s={23.7} b c="#000">Low RiskScore</T>
      <T x={496} y={1959.5} s={23.7} b c="#000">High RiskScore</T>
      <T x={789} y={1960.5} s={23.7} b c="#000">Low RiskScore</T>
      <T x={1200} y={1960.5} s={23.7} b c="#000">High RiskScore</T>
    </svg>
  );
}

export default function App() {
  return (
    <div style={{ position: 'absolute', left: 0, top: 0, width: 1416, height: 1975, background: '#fff', overflow: 'hidden' }}>
      <HeatPanel />
      <CorrPanel />
      <ViolinPanel genes={cGenes} high={cHigh} low={cLow} highMean={cHighMean} lowMean={cLowMean} sig={cSig} sigY={cSigY}
        box={{ l: 934.5, r: 1411, t: 85, b: 352 }} yDomain={[-1.63, 12.4]} yMajor={[0, 4, 8, 12]} yMinor={[2, 6, 10]} xPad={[0.59, 0.583]} />
      <ViolinPanel genes={dGenes} high={dHigh} low={dLow} highMean={dHighMean} lowMean={dLowMean} sig={dSig} sigY={dSigY}
        box={{ l: 934.5, r: 1414, t: 549, b: 797 }} yDomain={[-1.63, 12.8]} yMajor={[0, 4, 8, 12]} yMinor={[2, 6, 10]} xPad={[0.595, 0.595]} />
      <ViolinPanel genes={eGenes} high={eHigh} low={eLow} highMean={eHighMean} lowMean={eLowMean} sig={eSig} sigY={eSigY}
        box={{ l: 934.5, r: 1411, t: 986, b: 1253 }} yDomain={[-1.93, 19.6]} yMajor={[0, 5, 10, 15]} yMinor={[2.5, 7.5, 12.5, 17.5]} xPad={[0.59, 0.583]} />
      <GseaPanel ranks={hallmarkRanks} curves={[hAngio, hTnfa, hIfng, hInfl, hKras, hEmt]} rugs={hallmarkRugs}
        xDomain={[160, 1540]} vGrid={[195, 552, 910, 1268]} box={{ l: 71.4, r: 687.5, t: 1643, b: 1838.4 }} rugB={1937}
        yDomain={[-0.75, 0.158]} yTicks={[0.085, 0, -0.2, -0.4, -0.6, -0.685]} yLabelled={[0, -0.2, -0.4, -0.6]} />
      <GseaPanel ranks={keggRanks} curves={[kCyto, kCancer, kEcm, kToll, kTcell, kFocal]} rugs={keggRugs}
        xDomain={[172, 1514]} vGrid={[206, 553, 900, 1248]} box={{ l: 778.5, r: 1391, t: 1642, b: 1836.5 }} rugB={1935}
        yDomain={[-0.68, 0.174]} yTicks={[0.105, 0, -0.2, -0.4, -0.6]} yLabelled={[0, -0.2, -0.4, -0.6]} />
      <Overlay />
    </div>
  );
}
